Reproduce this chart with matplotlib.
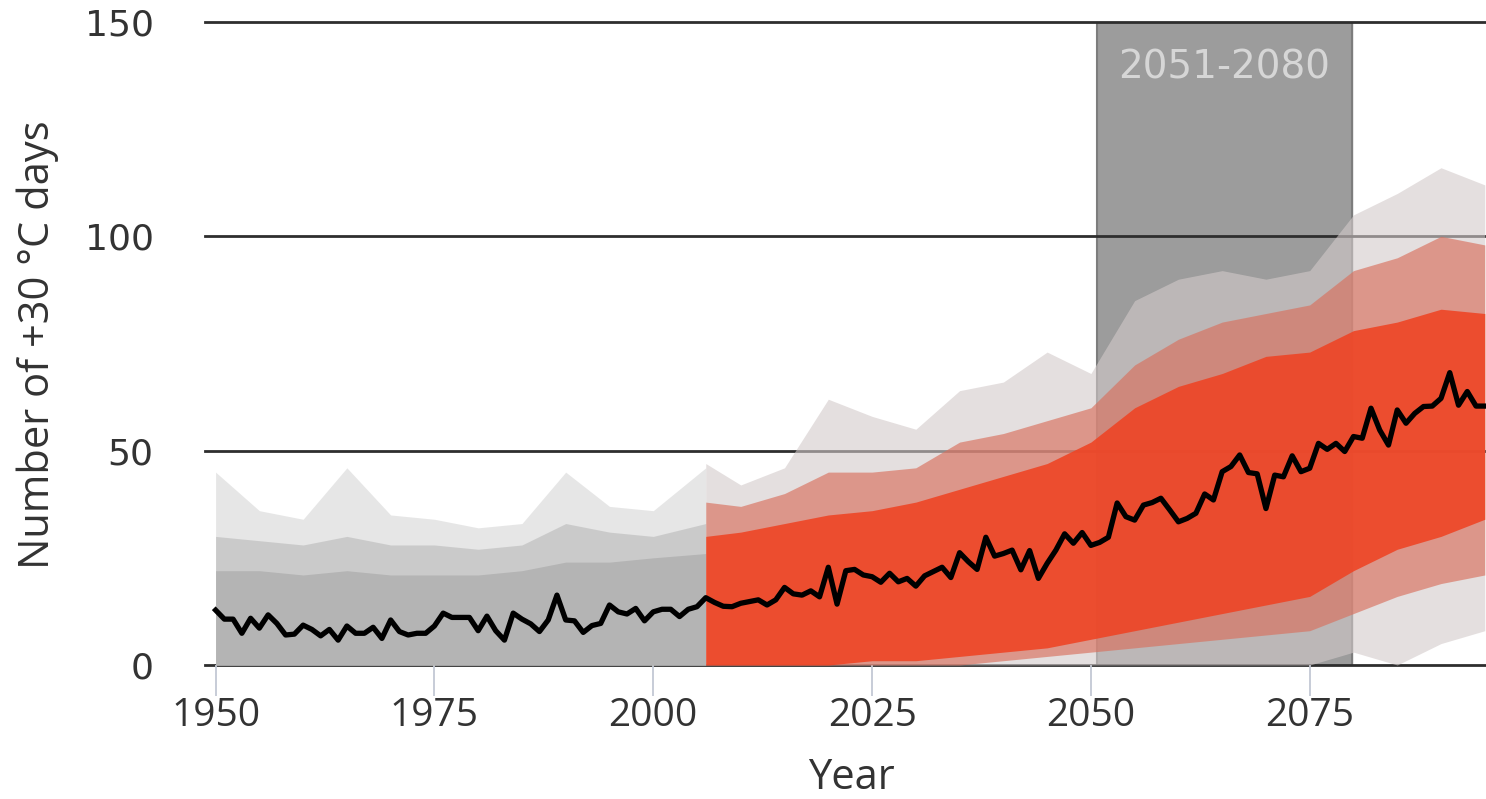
import numpy as np
import matplotlib.pyplot as plt

# median of the ensemble (black line), one value per year 1950-2095
years = np.arange(1950, 2096)
median = [12.8, 10.7, 10.7, 7.4, 10.9, 8.6, 11.7, 9.7, 7.0, 7.2,
          9.3, 8.3, 6.8, 8.3, 5.8, 9.1, 7.4, 7.4, 8.8, 6.2,
          10.5, 7.8, 7.0, 7.4, 7.4, 9.1, 12.1, 11.1, 11.1, 11.1,
          8.0, 11.4, 8.0, 5.8, 12.1, 10.7, 9.6, 7.8, 10.5, 16.3,
          10.5, 10.3, 7.6, 9.2, 9.7, 14.0, 12.4, 11.9, 13.2, 10.3,
          12.4, 13.0, 13.0, 11.3, 13.0, 13.6, 15.7, 14.6, 13.7, 13.6,
          14.4, 14.8, 15.2, 14.0, 15.2, 18.1, 16.6, 16.3, 17.3, 15.9,
          22.8, 14.2, 22.0, 22.3, 21.0, 20.6, 19.3, 21.4, 19.4, 20.2,
          18.4, 20.8, 21.8, 22.8, 20.4, 26.2, 24.1, 22.3, 29.8, 25.4,
          26.0, 26.8, 22.2, 26.7, 20.2, 23.7, 26.8, 30.6, 28.4, 30.9,
          27.9, 28.6, 29.8, 37.8, 34.6, 33.8, 37.3, 37.9, 38.9, 36.2,
          33.4, 34.2, 35.4, 39.9, 38.5, 45.1, 46.3, 49.0, 44.9, 44.6,
          36.5, 44.3, 43.9, 48.8, 45.1, 45.9, 51.7, 50.3, 51.7, 49.8,
          53.3, 52.9, 59.9, 54.8, 51.3, 59.5, 56.4, 58.7, 60.3, 60.4,
          62.2, 68.2, 60.6, 63.8, 60.4, 60.4]

# historical ensemble spread (grey), read every ~5 years
hist_years = [1950, 1955, 1960, 1965, 1970, 1975, 1980, 1985, 1990, 1995, 2000, 2006]
hist_outer_hi = [45, 36, 34, 46, 35, 34, 32, 33, 45, 37, 36, 46]
hist_mid_hi = [30, 29, 28, 30, 28, 28, 27, 28, 33, 31, 30, 33]
hist_core_hi = [22, 22, 21, 22, 21, 21, 21, 22, 24, 24, 25, 26]

# scenario ensemble spread (red), read every ~5 years
fut_years = [2006, 2010, 2015, 2020, 2025, 2030, 2035, 2040, 2045, 2050,
             2055, 2060, 2065, 2070, 2075, 2080, 2085, 2090, 2095]
fut_outer_hi = [47, 42, 46, 62, 58, 55, 64, 66, 73, 68, 85, 90, 92, 90, 92, 105, 110, 116, 112]
fut_outer_lo = [0, 0, 0, 0, 0, 0, 0, 0, 0, 0, 0, 0, 0, 0, 0, 3, 0, 5, 8]
fut_mid_hi = [38, 37, 40, 45, 45, 46, 52, 54, 57, 60, 70, 76, 80, 82, 84, 92, 95, 100, 98]
fut_mid_lo = [0, 0, 0, 0, 0, 0, 0, 1, 2, 3, 4, 5, 6, 7, 8, 12, 16, 19, 21]
fut_core_hi = [30, 31, 33, 35, 36, 38, 41, 44, 47, 52, 60, 65, 68, 72, 73, 78, 80, 83, 82]
fut_core_lo = [0, 0, 0, 0, 1, 1, 2, 3, 4, 6, 8, 10, 12, 14, 16, 22, 27, 30, 34]

period = (2050.7, 2079.8)
period_label = '2051-2080'

fig = plt.figure(figsize=(14.86, 7.99), dpi=100)
ax = fig.add_axes([205 / 1486, 1 - 665 / 799, 1 - 205 / 1486, (665 - 22) / 799])
ax.set_xlim(1948.79, 2095.14)
ax.set_ylim(0, 150)
for s in ax.spines.values():
    s.set_visible(False)

# highlighted period
ax.axvspan(*period, color='#9c9c9c', zorder=0.5)
ax.axvline(period[0], color='#7d7d7d', lw=1.5, zorder=0.6)
ax.axvline(period[1], color='#7d7d7d', lw=1.5, zorder=0.6)
ax.text(sum(period) / 2, 139.5, period_label, ha='center', va='center',
        color='#d6d6d6', fontsize=28, family='DejaVu Sans', zorder=5)

# gridlines
for v in [0, 50, 100, 150]:
    ax.axhline(v, color='#2e2e2e', lw=2, zorder=1, clip_on=False)

# grey bands drawn without antialiasing so no light seam shows where red starts
ax.fill_between(hist_years, 0, hist_outer_hi, color='#dcdcdc', alpha=0.7, lw=0, zorder=2, antialiased=False)
ax.fill_between(hist_years, 0, hist_mid_hi, color='#c6c6c6', alpha=0.85, lw=0, zorder=2.1, antialiased=False)
ax.fill_between(hist_years, 0, hist_core_hi, color='#b4b4b4', lw=0, zorder=2.2, antialiased=False)

ax.fill_between(fut_years, fut_outer_lo, fut_outer_hi, color='#d3caca', alpha=0.6, lw=0, zorder=2.3)
ax.fill_between(fut_years, fut_mid_lo, fut_mid_hi, color='#d9705d', alpha=0.65, lw=0, zorder=2.4)
ax.fill_between(fut_years, fut_core_lo, fut_core_hi, color='#ef4323', alpha=0.88, lw=0, zorder=2.5)

ax.plot(years, median, color='black', lw=3.8, zorder=4)

# ticks
ax.set_yticks([0, 50, 100, 150])
ax.set_yticklabels(['0', '50', '100', '150'], family='DejaVu Sans', fontsize=26, color='#333333')
ax.tick_params(axis='y', length=0, pad=37)
ax.set_xticks([1950, 1975, 2000, 2025, 2050, 2075])
ax.set_xticklabels(['1950', '1975', '2000', '2025', '2050', '2075'],
                   family='Open Sans', fontsize=28, color='#333333')
ax.tick_params(axis='x', length=22, width=1.3, color='#c3c8d4', pad=1)

fig.text(851 / 1486, 1 - 778 / 799, 'Year', ha='center', va='center',
         family='Open Sans', fontsize=30, color='#333333')
fig.text(38 / 1486, 1 - 345 / 799, 'Number of +30 °C days', ha='center', va='center',
         rotation=90, family='Open Sans', fontsize=30, color='#333333')

plt.savefig('out.png', dpi=100)
